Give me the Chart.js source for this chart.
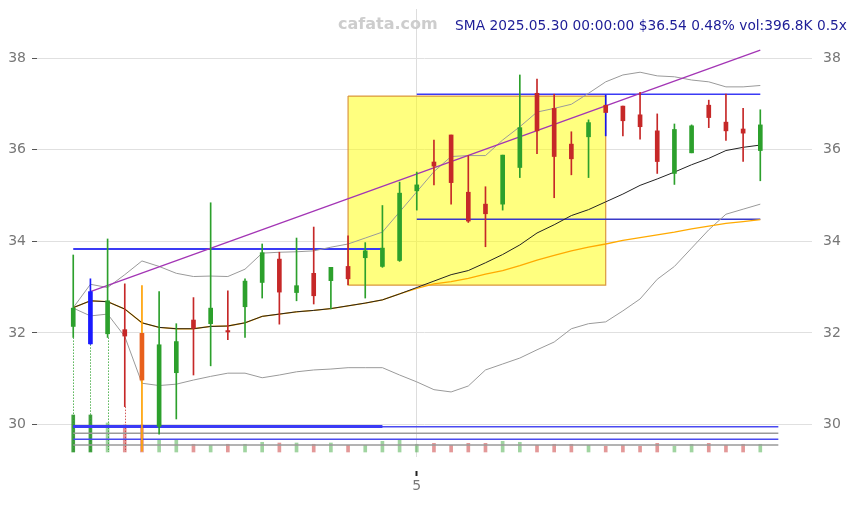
<!DOCTYPE html>
<html lang="en">
<head>
    <meta charset="UTF-8">
    <title>SMA daily chart</title>
    <script src="https://cdn.jsdelivr.net/npm/chart.js"></script>
    <style>
        html, body { margin: 0; padding: 0; background: #fff; }
        #chart { display: block; }
    </style>
</head>
<body>
    <canvas id="chart" width="857" height="505"></canvas>

    <script>
        // candle data (index 0..40)
        const opens  = [32.14, 31.76, 31.98, 32.07, 31.99, 29.96, 31.13, 32.28, 32.20, 32.05, 32.57, 33.10, 33.61, 32.88, 33.30, 33.14, 33.45, 33.64, 33.45, 33.58,
                        35.10, 35.73, 36.32, 35.07, 34.81, 34.81, 35.61, 37.23, 36.90, 36.12, 36.28, 36.97, 36.95, 36.76, 36.41, 35.48, 35.93, 36.97, 36.60, 36.45, 35.98];
        const highs  = [33.70, 33.18, 34.05, 33.07, 33.03, 32.90, 32.20, 32.77, 34.84, 32.92, 33.18, 33.94, 33.76, 34.07, 34.31, 33.43, 34.12, 33.97, 34.78, 35.29,
                        35.51, 36.21, 36.32, 35.87, 35.19, 35.88, 37.63, 37.54, 37.21, 36.39, 36.65, 37.19, 36.95, 37.25, 36.78, 36.56, 36.54, 37.08, 37.21, 36.90, 36.87];
        const lows   = [31.90, 31.75, 31.90, 30.39, 29.42, 29.79, 30.12, 31.08, 31.28, 31.85, 31.90, 32.76, 32.19, 32.70, 32.63, 32.52, 33.05, 32.76, 33.43, 33.56,
                        34.68, 35.23, 34.81, 34.41, 33.88, 34.68, 35.39, 35.91, 34.95, 35.45, 35.39, 36.30, 36.30, 36.23, 35.48, 35.24, 35.93, 36.48, 36.20, 35.74, 35.32];
        const closes = [32.54, 32.90, 32.70, 31.93, 30.97, 31.74, 31.81, 32.10, 32.54, 32.02, 33.13, 33.75, 32.89, 33.03, 32.81, 33.43, 33.18, 33.79, 33.85, 35.05,
                        35.23, 35.64, 35.28, 34.44, 34.60, 35.88, 36.48, 36.41, 35.85, 35.80, 36.59, 36.81, 36.63, 36.50, 35.74, 36.44, 36.52, 36.70, 36.41, 36.36, 36.54];
        // volume in thousands
        const volumes = [1906, 1906, 1494, 1390, 1390, 639, 639, 397, 345, 397, 397, 500, 464, 464, 397, 464, 345, 345, 551, 639,
                         397, 448, 345, 448, 448, 551, 500, 345, 397, 397, 345, 294, 345, 294, 448, 294, 397, 448, 345, 397, 396.8];

        // indicators
        const smaVals = [32.55, 32.70, 32.68, 32.52, 32.22, 32.12, 32.09, 32.09, 32.14, 32.15, 32.22, 32.36, 32.41, 32.46, 32.49, 32.53, 32.59, 32.65, 32.72, 32.85,
                         32.99, 33.13, 33.27, 33.36, 33.53, 33.71, 33.92, 34.18, 34.36, 34.56, 34.69, 34.86, 35.03, 35.22, 35.36, 35.51, 35.67, 35.81, 35.98, 36.05, 36.10];
        const slowVals = [32.55, 32.70, 32.68, 32.52, 32.22, 32.12, 32.09, 32.09, 32.14, 32.15, 32.22, 32.36, 32.41, 32.46, 32.49, 32.53, 32.59, 32.65, 32.72, 32.85,
                          32.97, 33.07, 33.12, 33.19, 33.28, 33.36, 33.47, 33.59, 33.69, 33.79, 33.87, 33.94, 34.02, 34.08, 34.14, 34.20, 34.27, 34.33, 34.39, 34.43, 34.47];
        const upperBand = [32.55, 33.06, 32.99, 33.27, 33.57, 33.45, 33.30, 33.23, 33.24, 33.23, 33.39, 33.74, 33.76, 33.77, 33.79, 33.87, 33.94, 34.07, 34.20, 34.64,
                           35.08, 35.52, 35.85, 35.87, 35.87, 36.21, 36.50, 36.82, 36.90, 36.99, 37.23, 37.48, 37.63, 37.69, 37.61, 37.59, 37.52, 37.48, 37.37, 37.37, 37.40];
        const lowerBand = [32.54, 32.37, 32.41, 31.92, 30.90, 30.85, 30.88, 30.97, 31.05, 31.12, 31.12, 31.02, 31.08, 31.15, 31.19, 31.21, 31.24, 31.24, 31.24, 31.08,
                           30.93, 30.76, 30.71, 30.84, 31.19, 31.32, 31.45, 31.63, 31.80, 32.09, 32.20, 32.24, 32.48, 32.74, 33.17, 33.45, 33.85, 34.25, 34.59, 34.70, 34.81];

        // drawings
        const trendIdx = [1, 40];
        const trendVals = [32.90, 38.17];
        const boxIdx = [16, 31];
        const boxVals = [37.17, 33.04];
        const levelVals  = [33.83, 37.21, 34.48, 29.955, 29.95, 29.81, 29.68, 29.55];
        const levelStart = [0, 20, 20, 0, 0, 0, 0, 0];
        const levelEnd   = [18, 40, 40, 18, 41.05, 41.05, 41.05, 41.05];

        // axes
        const yTicks = [30, 32, 34, 36, 38];
        const xTickPos = [20];
        const xTickLabels = ['5'];

        const titleText = 'SMA 2025.05.30 00:00:00 $36.54 0.48% vol:396.8K 0.5x';
        const watermark = 'cafata.com';

        const GREEN = '#2ca02c';
        const RED = '#c62828';
        const levelColors = ['#3b3bf5', '#3b3bf5', '#3a3ac8', '#3b3bf5', '#4a4af0', '#9a9a9a', '#4a4af0', '#9a9a9a'];
        const levelWidths = [2, 1.5, 1.5, 3, 1.5, 1.5, 1.5, 1.5];
        const bodyOverride = { 1: '#1a1aff', 4: '#e8601c' };
        const wickOverride = { 1: '#1a1aff', 4: '#ffa000', 31: '#1515ee' };
        const dottedIdx = [0, 1, 2, 3];

        const idx = opens.map((_, i) => i);
        const isUp = i => closes[i] >= opens[i];
        const pts = arr => arr.map((v, i) => ({ x: i, y: v }));

        const datasets = [];

        // yellow box
        datasets.push({
            type: 'line',
            data: [
                { x: boxIdx[0], y: boxVals[0] }, { x: boxIdx[1], y: boxVals[0] },
                { x: boxIdx[1], y: boxVals[1] }, { x: boxIdx[0], y: boxVals[1] },
                { x: boxIdx[0], y: boxVals[0] }
            ],
            fill: 'shape',
            backgroundColor: 'rgba(255,255,0,0.5)',
            borderColor: 'rgba(214,140,50,0.9)',
            borderWidth: 1.2,
            pointRadius: 0,
            order: 100
        });

        // volume
        datasets.push({
            type: 'bar',
            yAxisID: 'yVol',
            data: volumes.map((v, i) => ({ x: i, y: v })),
            backgroundColor: idx.map(i => {
                if (i < 2) return 'rgba(44,150,44,0.9)';
                return isUp(i) ? 'rgba(44,160,44,0.45)' : 'rgba(200,50,50,0.5)';
            }),
            barThickness: 3,
            grouped: false,
            order: 90
        });

        // level lines
        levelVals.forEach((v, k) => {
            datasets.push({
                type: 'line',
                data: [{ x: levelStart[k], y: v }, { x: levelEnd[k], y: v }],
                borderColor: levelColors[k],
                borderWidth: levelWidths[k],
                borderCapStyle: 'butt',
                pointRadius: 0,
                fill: false,
                order: 80
            });
        });

        // bands and averages
        [[upperBand, '#9a9a9a', 1, 70], [lowerBand, '#9a9a9a', 1, 70],
         [slowVals, '#ffaa00', 1.3, 66], [smaVals, '#222222', 1, 65]].forEach(([arr, col, w, ord]) => {
            datasets.push({
                type: 'line',
                data: pts(arr),
                borderColor: col,
                borderWidth: w,
                pointRadius: 0,
                tension: 0,
                fill: false,
                order: ord
            });
        });

        // trend line
        datasets.push({
            type: 'line',
            data: trendIdx.map((x, k) => ({ x, y: trendVals[k] })),
            borderColor: '#a335b5',
            borderWidth: 1.3,
            pointRadius: 0,
            fill: false,
            order: 55
        });

        // wicks
        datasets.push({
            type: 'bar',
            data: idx.map(i => ({ x: i, y: [lows[i], highs[i]] })),
            backgroundColor: idx.map(i => wickOverride[i] || (isUp(i) ? GREEN : RED)),
            barThickness: 1,
            grouped: false,
            order: 20
        });

        // bodies
        datasets.push({
            type: 'bar',
            data: idx.map(i => ({ x: i, y: [opens[i], closes[i]] })),
            backgroundColor: idx.map(i => bodyOverride[i] || (isUp(i) ? GREEN : RED)),
            barThickness: 4,
            minBarLength: 1,
            grouped: false,
            order: 10
        });

        const overlayPlugin = {
            id: 'overlay',
            beforeDatasetsDraw(chart) {
                const { ctx, scales: { x, y, yVol } } = chart;
                ctx.save();
                ctx.setLineDash([1.5, 1.5]);
                ctx.lineWidth = 1;
                dottedIdx.forEach(i => {
                    const px = Math.round(x.getPixelForValue(i)) + 0.5;
                    ctx.strokeStyle = isUp(i) ? 'rgba(44,160,44,0.8)' : 'rgba(200,50,50,0.8)';
                    ctx.beginPath();
                    ctx.moveTo(px, y.getPixelForValue(lows[i]));
                    ctx.lineTo(px, yVol.getPixelForValue(0));
                    ctx.stroke();
                });
                ctx.restore();
            },
            afterDraw(chart) {
                const { ctx } = chart;
                ctx.save();
                ctx.textBaseline = 'middle';
                ctx.font = 'bold 16px "DejaVu Sans"';
                ctx.fillStyle = 'rgba(200,200,200,0.9)';
                ctx.textAlign = 'left';
                ctx.fillText(watermark, 338, 25);
                ctx.font = '13.75px "DejaVu Sans"';
                ctx.fillStyle = '#1c1c96';
                ctx.textAlign = 'right';
                ctx.fillText(titleText, 847, 26);
                ctx.restore();
            }
        };

        const setYTicks = scale => { scale.ticks = yTicks.map(v => ({ value: v })); };
        // keep the plot area fixed: drop the label padding chart.js adds
        const fixWidth = w => scale => {
            scale.width = w;
            scale.paddingTop = 0;
            scale.paddingBottom = 0;
        };
        const tickFont = { family: 'DejaVu Sans', size: 14 };

        new Chart(document.getElementById('chart'), {
            type: 'line',
            data: { datasets },
            options: {
                responsive: false,
                animation: false,
                layout: { padding: { top: 9, left: 0, right: 0, bottom: 0 } },
                plugins: {
                    legend: { display: false },
                    tooltip: { enabled: false }
                },
                scales: {
                    x: {
                        type: 'linear',
                        min: -2.11,
                        max: 43.01,
                        offset: false,
                        afterBuildTicks: scale => { scale.ticks = xTickPos.map(v => ({ value: v })); },
                        afterFit: scale => {
                            scale.height = 48;
                            scale.paddingLeft = 0;
                            scale.paddingRight = 0;
                        },
                        border: { display: false },
                        grid: {
                            offset: false,
                            color: '#dddddd',
                            tickColor: '#222',
                            tickLength: 19,
                            tickWidth: 2,
                            tickBorderDash: [0, 14, 5]
                        },
                        ticks: {
                            color: '#777',
                            font: tickFont,
                            padding: 2,
                            maxRotation: 0,
                            autoSkip: false,
                            callback: v => xTickLabels[xTickPos.indexOf(v)] ?? ''
                        }
                    },
                    y: {
                        position: 'left',
                        min: 29.29,
                        max: 39.07,
                        afterBuildTicks: setYTicks,
                        afterFit: fixWidth(37),
                        border: { display: false },
                        grid: { color: '#e0e0e0', tickColor: '#555', tickLength: 5 },
                        ticks: { color: '#777', font: tickFont, padding: 6 }
                    },
                    yR: {
                        position: 'right',
                        min: 29.29,
                        max: 39.07,
                        afterBuildTicks: setYTicks,
                        afterFit: fixWidth(45),
                        border: { display: false },
                        grid: { display: false, drawTicks: false },
                        ticks: { color: '#777', font: tickFont, padding: 11 }
                    },
                    yVol: {
                        display: false,
                        position: 'left',
                        min: -257.5,
                        max: 22814.5
                    }
                }
            },
            plugins: [overlayPlugin]
        });
    </script>
</body>
</html>
